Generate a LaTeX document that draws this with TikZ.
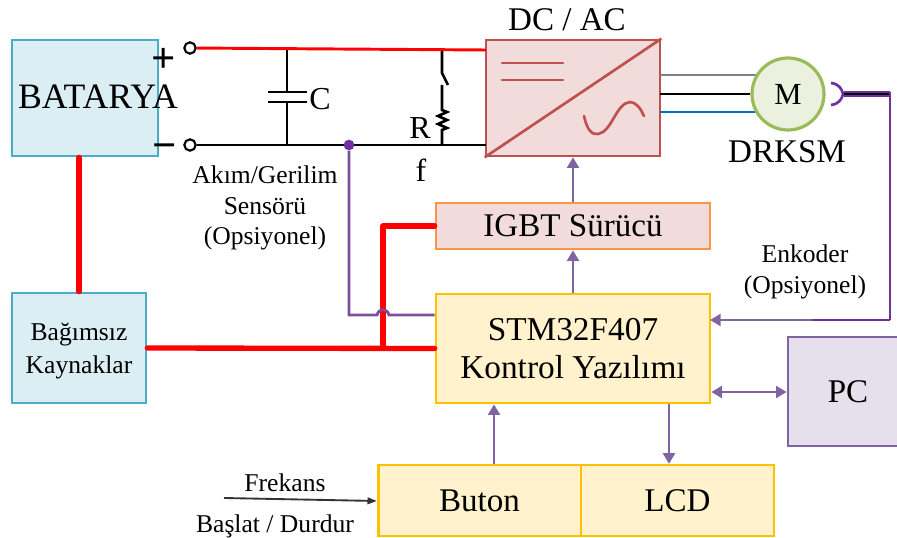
\documentclass[tikz,border=0pt]{standalone}
\usepackage{fontspec}
\setmainfont{Liberation Serif}
\usetikzlibrary{arrows.meta}
\definecolor{bluefill}{HTML}{DAEEF3}\definecolor{blueline}{HTML}{4BACC6}
\definecolor{redfill}{HTML}{F2DCDB}\definecolor{redline}{HTML}{C0504D}
\definecolor{orangeline}{HTML}{F79646}
\definecolor{yelfill}{HTML}{FFF2CC}\definecolor{yelline}{HTML}{FFC000}
\definecolor{violetfill}{HTML}{E6E0EC}\definecolor{violetline}{HTML}{8064A2}
\definecolor{greenfill}{HTML}{EBF1DE}\definecolor{greenline}{HTML}{9BBB59}
\definecolor{sigline}{HTML}{7030A0}
\definecolor{phaseblue}{HTML}{0070C0}
\newcommand{\fs}[1]{\fontsize{#1}{\dimexpr#1pt*12/10\relax}\selectfont}
\tikzset{
  x=0.75pt,y=-0.75pt,
  boxbase/.style={draw,line width=2pt,inner sep=0pt,align=center,font=\fs{24.8}},
  batbox/.style={boxbase,draw=blueline,fill=bluefill},
  convbox/.style={boxbase,draw=redline,fill=redfill},
  igbtbox/.style={boxbase,draw=orangeline,fill=redfill},
  ctrlbox/.style={boxbase,draw=yelline,fill=yelfill},
  pcbox/.style={boxbase,draw=violetline,fill=violetfill},
  motor/.style={circle,draw=greenline,fill=greenfill,line width=2.4pt,inner sep=0pt,minimum size=54pt,font=\fs{23}},
  term/.style={circle,draw=black,fill=white,line width=1.6pt,inner sep=0pt,minimum size=8.5pt},
  lbl/.style={inner sep=0pt,align=center},
  blk/.style={draw=black,line width=2pt},
  thickred/.style={draw=red,line width=4pt,line cap=round},
  sig/.style={draw=violetline,line width=1.8pt,-{Triangle[length=8pt,width=9pt]}},
  sigtwo/.style={draw=violetline,line width=1.8pt,{Triangle[length=8pt,width=9pt]}-{Triangle[length=8pt,width=9pt]}},
  wave/.style={draw=redline,line width=2pt,line cap=round},
}
\begin{document}
\begin{tikzpicture}
\useasboundingbox (0,0) rectangle (897,538);
% boxes
\node[batbox,minimum width=109.5pt,minimum height=87pt] (bat) at (85,98) {};
\node[lbl,font=\fs{26.8}] (battxt) at (98,97) {BATARYA};
\node[convbox,minimum width=130.5pt,minimum height=87pt] (conv) at (573,98) {};
\node[igbtbox,minimum width=205.5pt,minimum height=34.5pt] (igbt) at (573,226) {IGBT Sürücü};
\node[ctrlbox,minimum width=205.5pt,minimum height=81.75pt,font=\fs{25}] (stm) at (573,348.5) {STM32F407\\[-1.5pt]Kontrol Yazılımı};
\node[batbox,minimum width=100.5pt,minimum height=82.5pt] (src) at (79,348) {};
\node[lbl,font=\fs{19.2}] (srctxt) at (79,351) {Bağımsız\\[1pt]Kaynaklar};
\node[pcbox,minimum width=90pt,minimum height=81.75pt] (pc) at (848,391.5) {PC};
\node[ctrlbox,minimum width=152pt,minimum height=53pt] (buton) at (479.5,500.5) {Buton};
\node[ctrlbox,minimum width=144.75pt,minimum height=53pt] (lcd) at (677.5,500.5) {LCD};
% converter symbol
\draw[redline,line width=2pt] (conv.south west) -- (conv.north east);
\draw[wave] (502,63) -- (563,63) (502,80) -- (563,80);
\draw[wave] (584,116) .. controls (587,130) and (592,135) .. (598,134) .. controls (612,132) and (616,103) .. (630,102) .. controls (636,102) and (641,109) .. (644,116);
% terminals
\node[term] (plus) at (190,48) {};
\node[term] (minus) at (190,145) {};
\node[lbl,font=\fs{32}\bfseries] (plustxt) at (164,60) {+};
\node[lbl,font=\fs{32}\bfseries] (minustxt) at (165,152) {−};
% junction coordinates
\coordinate (pin) at (486,50);
\coordinate (nin) at (486,145);
\coordinate (ctop) at (287,49);
\coordinate (cbot) at (287,145);
\coordinate (cp1) at (287,92);
\coordinate (cp2) at (287,102);
\coordinate (stop) at (442,50);
\coordinate (sbot) at (442,145);
% DC bus
\draw[blk] (ctop) -- (cp1) (cp2) -- (cbot);
\draw[blk] (268,92) -- (307,92) (268,102) -- (307,102);
\draw[blk] (stop) -- (442,73) -- (448,85);
\draw[blk] (442,85) -- (442,110) -- (447,112) -- (438,116) -- (447,120) -- (438,124) -- (447,128) -- (442,130) -- (sbot);
\draw[draw=red,line width=2.2pt] (plus) -- (pin);
\draw[blk] (minus) -- (nin);
\node[lbl,font=\fs{24}] (ctxt) at (320,99) {C};
\node[lbl,font=\fs{24}] (rtxt) at (420,128) {R};
\node[lbl,font=\fs{24}] (ftxt) at (421,170) {f};
\node[lbl,font=\fs{24.8}] (dctxt) at (567,20) {DC / AC};
\node[lbl,font=\fs{24.8}] (drtxt) at (787,152) {DRKSM};
% motor lines
\coordinate (ma) at (760,75);
\coordinate (mb) at (760,112);
\draw[draw=gray,line width=2pt] (660,75) -- (ma);
\draw[draw=phaseblue,line width=2pt] (660,112) -- (mb);
\node[motor] (m) at (788,94) {M};
\draw[blk] (660,94) -- (m.west);
% encoder
\coordinate (enc) at (844,94);
\coordinate (encr) at (890,94);
\coordinate (encb) at (890,320);
\coordinate (stmr) at (710,320);
\draw[draw=sigline,line width=2pt] (831,83) .. controls (839,84) and (842,89) .. (843,94) .. controls (842,99) and (839,104) .. (831,105);
\draw[draw=sigline,line width=4pt] (enc) -- (encr);
\draw[draw=black,line width=1.8pt] (enc) -- (encr);
\draw[draw=sigline,line width=1.9pt] (890,92) -- (encb);
\draw[draw=sigline,line width=1.9pt] (encb) -- (812,320);
\draw[sig] (812,320) -- (stmr);
% sensor
\node[circle,fill=sigline,inner sep=0pt,minimum size=8pt] (dot) at (349,145) {};
\coordinate (sc) at (349,315);
\draw[draw=violetline!60!sigline,line width=1.9pt] (dot) -- (sc) -- (377,315) .. controls (379,308) and (387,308) .. (389,315) -- (stm.west |- 0,315);
% red power
\coordinate (rj) at (383,348);
\coordinate (rc) at (383,226);
\draw[thickred] (bat.south -| 79,0) -- (src.north);
\draw[thickred] (src.east) -- (stm.west);
\draw[thickred,line join=round] (rj) -- (rc) -- (igbt.west);
\draw[draw=violetline!60!sigline,line width=1.9pt] (377,315) .. controls (379,308) and (387,308) .. (389,315);
% arrows
\draw[sig] (igbt.north) -- (conv.south);
\draw[sig] (stm.north) -- (igbt.south);
\draw[sig] (buton.north -| 494,0) -- (stm.south -| 494,0);
\draw[sig] (stm.south -| 669,0) -- (lcd.north -| 669,0);
\draw[sigtwo] (stm.east |- 0,392) -- (pc.west |- 0,392);
% inputs
\coordinate (fin) at (224,498);
\draw[draw=black!80,line width=1.4pt,-{Triangle[length=7pt,width=5pt]}] (fin) -- (buton.west |- 0,501);
\node[lbl,font=\fs{19.2}] (fr) at (285,483) {Frekans};
\node[lbl,font=\fs{19.2}] (bd) at (275,526) {Başlat / Durdur};
\node[lbl,font=\fs{19.2}] (sens) at (265,208) {Akım/Gerilim\\Sensörü\\(Opsiyonel)};
\node[lbl,font=\fs{19.2}] (enct) at (805,272) {Enkoder\\(Opsiyonel)};
\end{tikzpicture}
\end{document}
